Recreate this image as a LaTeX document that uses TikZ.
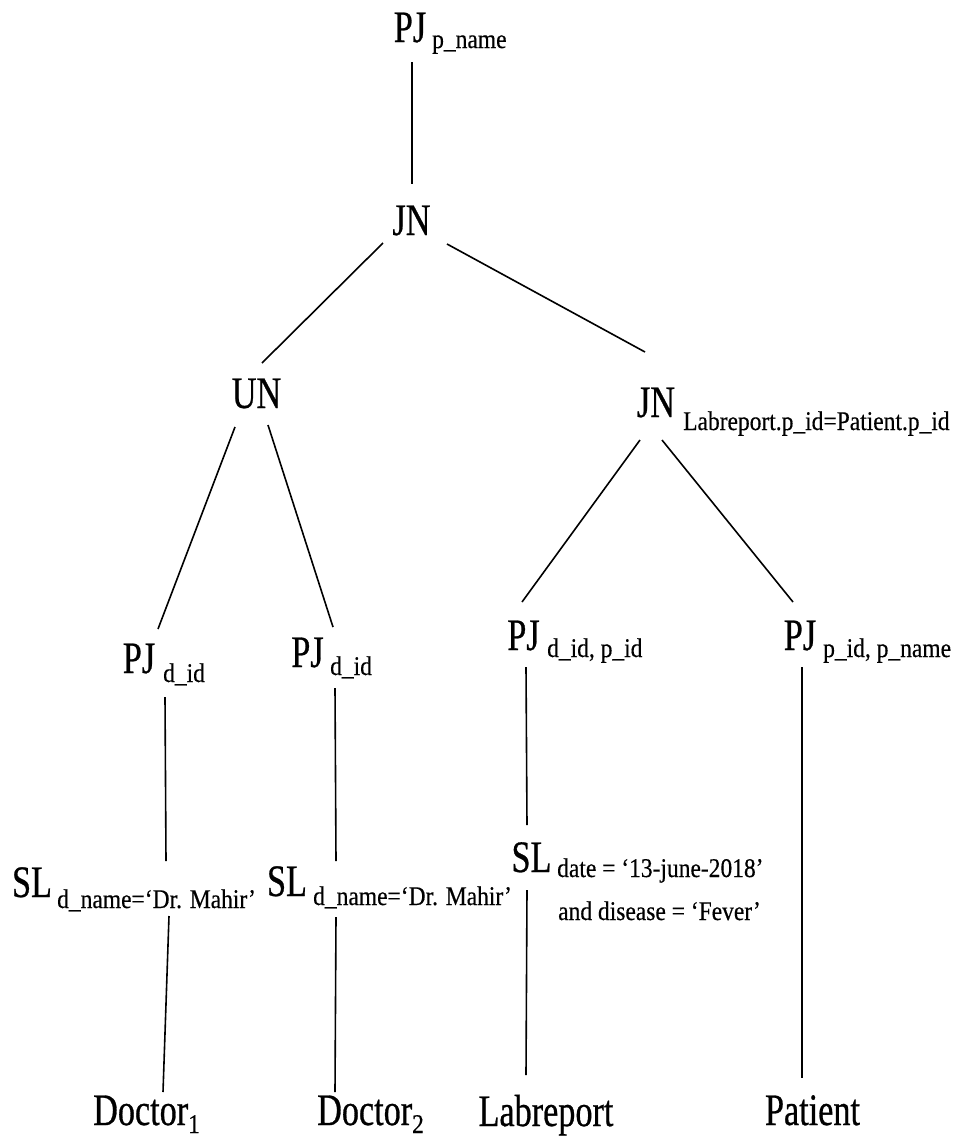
\documentclass[tikz,border=0pt]{standalone}
\usepackage{fontspec}
\setmainfont{Liberation Serif}
\newfontfamily\opfont{Liberation Serif}[FakeStretch=0.76,FakeBold=0.6]
\newfontfamily\subfont{Liberation Serif}[FakeStretch=0.87,FakeBold=0.4]
\begin{document}
\begin{tikzpicture}[x=1pt,y=-1pt,
  op/.style={inner sep=0pt, anchor=base, font=\opfont\fontsize{45}{54}\selectfont},
  opw/.style={inner sep=0pt, anchor=base west, font=\opfont\fontsize{45}{54}\selectfont},
  sub/.style={inner sep=0pt, anchor=base west, font=\subfont\fontsize{27}{32}\selectfont},
  edge/.style={draw=black, line width=1.6pt}]
\useasboundingbox (0,0) rectangle (964,1138);
% nodes
\node[op] (pjt) at (410,42) {PJ};
\node[sub] (pjts) at (432,48) {p\_name};
\node[op] (jn) at (411.5,235) {JN};
\node[op] (un) at (256.5,408) {UN};
\node[op] (jn2) at (656,417) {JN};
\node[sub] (jn2s) at (683,430) {Labreport.p\_id=Patient.p\_id};
\node[op] (pja) at (139,673) {PJ};
\node[sub] (pjas) at (163,682) {d\_id};
\node[op] (pjb) at (307.5,667) {PJ};
\node[sub] (pjbs) at (330,675) {d\_id};
\node[op] (pjc) at (523.5,650) {PJ};
\node[sub] (pjcs) at (547,657) {d\_id, p\_id};
\node[op] (pjd) at (800,650) {PJ};
\node[sub] (pjds) at (823,657) {p\_id, p\_name};
\node[op] (sla) at (32,897) {SL};
\node[sub] (slas) at (57,908) {d\_name=‘Dr. Mahir’};
\node[op] (slb) at (287,896) {SL};
\node[sub] (slbs) at (313,905) {d\_name=‘Dr. Mahir’};
\node[op] (slc) at (531.5,872) {SL};
\node[sub] (slcs) at (557,877) {date = ‘13-june-2018’};
\node[sub] (slct) at (558,920) {and disease = ‘Fever’};
\node[opw] (doc1) at (93,1125) {Doctor\raisebox{-8pt}{\subfont\fontsize{27}{32}\selectfont 1}};
\node[opw] (doc2) at (317,1125) {Doctor\raisebox{-8pt}{\subfont\fontsize{27}{32}\selectfont 2}};
\node[op] (lab) at (546,1126) {Labreport};
\node[op] (pat) at (812.5,1125) {Patient};
% connectors
\draw[edge] ([shift={(2,20)}]pjt.base) -- ([shift={(0.5,-51)}]jn.base);
\draw[edge] ([shift={(-28.5,8)}]jn.base) -- ([shift={(5.5,-45)}]un.base);
\draw[edge] ([shift={(35.5,9)}]jn.base) -- ([shift={(-11,-65)}]jn2.base);
\draw[edge] ([shift={(-21.5,19)}]un.base) -- ([shift={(19,-44)}]pja.base);
\draw[edge] ([shift={(11.5,17)}]un.base) -- ([shift={(25.5,-40)}]pjb.base);
\draw[edge] ([shift={(-16,23)}]jn2.base) -- ([shift={(-1.5,-48)}]pjc.base);
\draw[edge] ([shift={(6,23)}]jn2.base) -- ([shift={(-7,-48)}]pjd.base);
\draw[edge] ([shift={(2,15)}]pjas.base west) -- ([shift={(109,-47)}]slas.base west);
\draw[edge] ([shift={(112,8)}]slas.base west) -- ([shift={(70,-33)}]doc1.base west);
\draw[edge] ([shift={(5,13)}]pjbs.base west) -- ([shift={(23,-44)}]slbs.base west);
\draw[edge] ([shift={(23,12)}]slbs.base west) -- ([shift={(18,-33)}]doc2.base west);
\draw[edge] ([shift={(2.5,17)}]pjc.base) -- ([shift={(-4.5,-47)}]slc.base);
\draw[edge] ([shift={(-4.5,18)}]slc.base) -- ([shift={(-20,-51)}]lab.base);
\draw[edge] ([shift={(2,17)}]pjd.base) -- ([shift={(-10.5,-47)}]pat.base);
\end{tikzpicture}
\end{document}
